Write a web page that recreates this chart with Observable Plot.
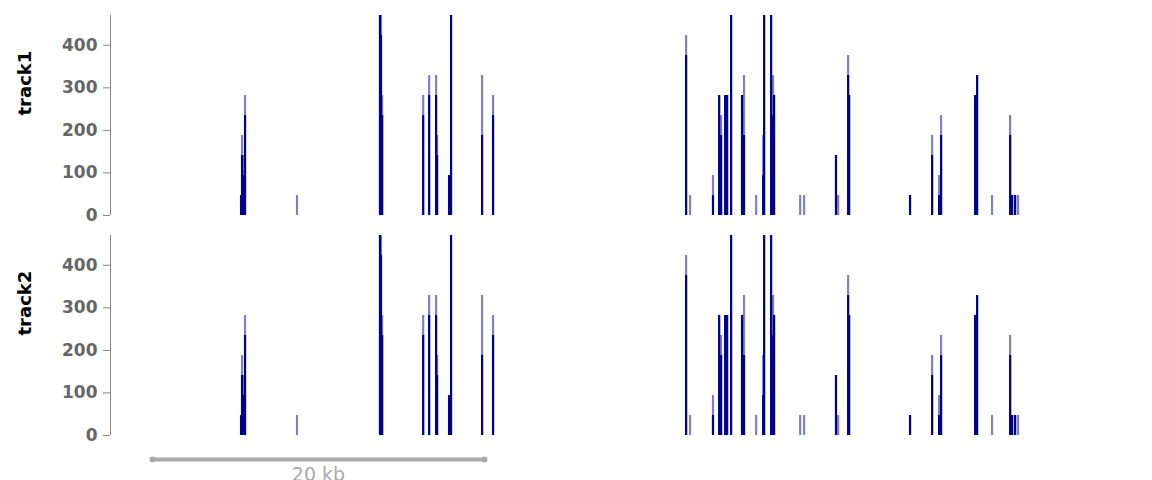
<!DOCTYPE html>
<html><head><meta charset="utf-8">
<script src="https://cdn.jsdelivr.net/npm/d3@7"></script>
<script src="https://cdn.jsdelivr.net/npm/@observablehq/plot@0.6"></script>
<style>body{margin:0;background:#fff;font-family:"DejaVu Sans",sans-serif}</style>
</head><body><div id="chart"></div>
<script>
// bin start (kb), solid coverage, lighter coverage on top
const pos   = [5.30,5.36,5.42,5.54,8.67,13.67,13.73,13.80,16.27,16.63,17.05,17.11,17.83,17.95,19.82,20.48,
               32.11,32.35,33.73,34.10,34.22,34.46,34.58,34.82,35.48,35.60,36.33,36.75,36.81,37.23,37.35,37.41,
               38.98,39.22,41.14,41.27,41.87,41.93,45.60,46.93,47.35,47.47,49.52,49.64,50.54,51.63,51.75,51.93,52.11];
const solid1 = [47,141,94,235,0,470,423,235,235,282,282,141,94,470,188,235,
               376,0,47,282,188,282,282,470,282,188,0,94,470,470,235,282,
               0,0,141,0,329,282,47,141,47,188,282,329,0,188,47,47,0];
const light1 = [47,188,141,282,47,470,470,282,282,329,329,188,94,470,329,282,
               423,47,94,282,235,282,282,470,282,329,47,188,470,470,329,282,
               47,47,141,47,376,282,47,188,94,235,282,329,47,235,47,47,47];
const solid2 = solid1.map((v, i) => i === 3 ? 235 : v);
const light2 = light1;
const yTicks = [0,100,200,300,400];
const kbPerBar = 0.13;

function track(name, solid, light) {
  const rows = pos.map((p, i) => ({x1: p, x2: p + kbPerBar, s: solid[i], l: light[i]}));
  return Plot.plot({
    width: 1152, height: 220,
    marginLeft: 110, marginRight: 2, marginTop: 15, marginBottom: 5,
    x: {domain: [-2.53, 60.12], axis: null},
    y: {domain: [0, 470], ticks: yTicks, label: null},
    style: {fontFamily: "DejaVu Sans", fontSize: "17px", overflow: "visible"},
    marks: [
      Plot.rectY(rows, {x1: "x1", x2: "x2", y: "l", fill: "#00008b", fillOpacity: 0.5, inset: 0}),
      Plot.rectY(rows, {x1: "x1", x2: "x2", y: "s", fill: "#00008b", inset: 0}),
      Plot.axisY({ticks: yTicks, tickSize: 7, tickPadding: 6, fill: "#666", fontWeight: "bold", fontSize: 17, stroke: "#888", label: null}),
      Plot.ruleX([-2.53], {stroke: "#888"}),
      Plot.text([name], {frameAnchor: "left", dx: -85, rotate: -90, fontWeight: "bold", fontSize: 18, fill: "#000"})
    ]
  });
}

const scale = Plot.plot({
  width: 1152, height: 40,
  marginLeft: 110, marginRight: 2, marginTop: 0, marginBottom: 0,
  x: {domain: [-2.53, 60.12], axis: null},
  y: {domain: [0, 40], axis: null},
  style: {fontFamily: "DejaVu Sans", overflow: "hidden"},
  marks: [
    Plot.ruleY([21], {x1: 0, x2: 20, stroke: "#aaa", strokeWidth: 4}),
    Plot.dot([[0, 21], [20, 21]], {r: 3, fill: "#aaa"}),
    Plot.text(["20 kb"], {x: 10, y: 6, fontSize: 19, fill: "#aaa"})
  ]
});

const el = document.getElementById("chart");
el.append(track("track1", solid1, light1));
el.append(track("track2", solid2, light2));
el.append(scale);
</script></body></html>
